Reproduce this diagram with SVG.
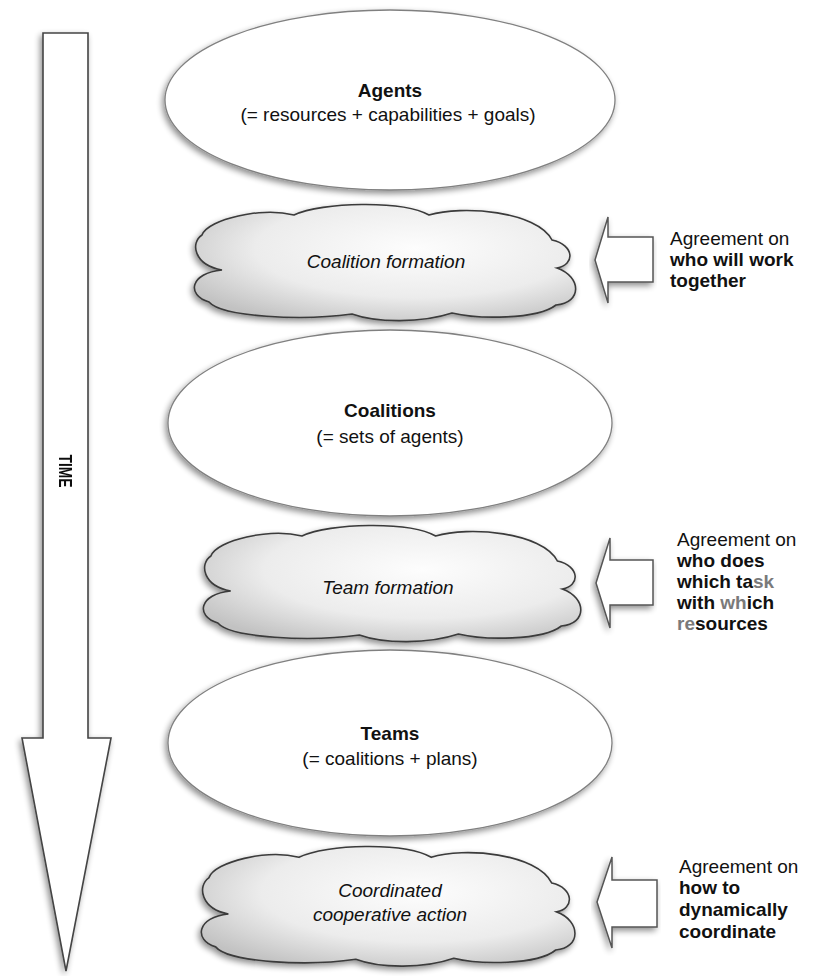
<svg xmlns="http://www.w3.org/2000/svg" width="819" height="976" viewBox="0 0 819 976">
<style>
  text { font-family: "Liberation Sans", Arial, sans-serif; fill: #111; }
  .lbl { font-size: 19px; text-anchor: middle; }
  .b { font-weight: bold; }
  .it { font-style: italic; font-size: 19px; text-anchor: middle; }
  .side { font-size: 19px; }
  .ell { fill: #fff; stroke: #808080; stroke-width: 1.3; }
  .cloud { fill: url(#cg); stroke: #3a3a3a; stroke-width: 1.6; vector-effect: non-scaling-stroke; }
  .barrow { fill: #fff; stroke: #555; stroke-width: 1.5; }
  .fade { fill: #7a7a7a; }
</style>
<defs>
  <radialGradient id="cg" cx="58%" cy="38%" r="70%">
    <stop offset="0" stop-color="#fdfdfd"/>
    <stop offset="0.6" stop-color="#ececec"/>
    <stop offset="1" stop-color="#c2c2c2"/>
  </radialGradient>
  <filter id="sh" x="-10%" y="-10%" width="120%" height="130%">
    <feGaussianBlur in="SourceAlpha" stdDeviation="3"/>
    <feOffset dx="-2" dy="3" result="o"/>
    <feComponentTransfer><feFuncA type="linear" slope="0.45"/></feComponentTransfer>
    <feMerge><feMergeNode/><feMergeNode in="SourceGraphic"/></feMerge>
  </filter>
  <path id="cloudPath" d="M 10,30 C 16,14 70,2 102,10 C 130,-3 210,-5 237,10 C 270,0 345,6 360,35 C 383,40 383,60 365,63 C 390,72 390,98 364,100 C 345,115 285,114 260,108 C 230,118 185,118 160,109 C 110,116 30,112 17,97 C -6,90 -2,68 30,65 C 2,60 -2,38 10,30 Z"/>
</defs>
<rect width="819" height="976" fill="#fff"/>

<g id="time-arrow" filter="url(#sh)">
  <path d="M 43,33 L 88,33 L 88,738 L 111,738 L 66,971 L 22,738 L 43,738 Z" fill="#fff" stroke="#444" stroke-width="1.6"/>
  <text class="b" font-size="18" transform="translate(59,471) rotate(90)" text-anchor="middle" textLength="33" lengthAdjust="spacingAndGlyphs">TIME</text>
</g>

<g id="agents">
  <ellipse class="ell" cx="390" cy="100" rx="225" ry="90" filter="url(#sh)"/>
  <text class="lbl b" x="390" y="97">Agents</text>
  <text class="lbl" x="388" y="121">(= resources + capabilities + goals)</text>
</g>

<g id="coalition-formation">
  <g filter="url(#sh)"><use href="#cloudPath" class="cloud" transform="translate(192,205)"/></g>
  <text class="it" x="386" y="268">Coalition formation</text>
</g>

<g id="coalitions">
  <ellipse class="ell" cx="390" cy="423" rx="222" ry="93" filter="url(#sh)"/>
  <text class="lbl b" x="390" y="417">Coalitions</text>
  <text class="lbl" x="390" y="443">(= sets of agents)</text>
</g>

<g id="team-formation">
  <g filter="url(#sh)"><use href="#cloudPath" class="cloud" transform="translate(201,526) scale(0.99,1)"/></g>
  <text class="it" x="388" y="594">Team formation</text>
</g>

<g id="teams">
  <ellipse class="ell" cx="390" cy="743" rx="222" ry="93" filter="url(#sh)"/>
  <text class="lbl b" x="390" y="740">Teams</text>
  <text class="lbl" x="390" y="765">(= coalitions + plans)</text>
</g>

<g id="coordinated-action">
  <g filter="url(#sh)"><use href="#cloudPath" class="cloud" transform="translate(199,847) scale(0.98,1.03)"/></g>
  <text class="it" x="390" y="897">Coordinated</text>
  <text class="it" x="390" y="921">cooperative action</text>
</g>

<g id="connectors">
  <path class="barrow" filter="url(#sh)" d="M 595,260 L 608,217 L 608,237 L 653,237 L 653,282 L 608,282 L 608,303 Z"/>
  <path class="barrow" filter="url(#sh)" d="M 596,583 L 610,538 L 610,560 L 653,560 L 653,605 L 610,605 L 610,628 Z"/>
  <path class="barrow" filter="url(#sh)" d="M 597,902 L 612,857 L 612,880 L 657,880 L 657,927 L 612,927 L 612,948 Z" stroke="#111" stroke-width="2.4"/>
</g>

<g id="label-1">
  <text class="side" x="670" y="245">Agreement on</text>
  <text class="side b" x="670" y="266">who will work</text>
  <text class="side b" x="670" y="287">together</text>
</g>

<g id="label-2">
  <text class="side" x="677" y="546">Agreement on</text>
  <text class="side b" x="677" y="567">who does</text>
  <text class="side b" x="677" y="588">which ta<tspan class="fade">sk</tspan></text>
  <text class="side b" x="677" y="609">with <tspan class="fade">wh</tspan>ich</text>
  <text class="side b" x="677" y="630"><tspan class="fade">re</tspan>sources</text>
</g>

<g id="label-3">
  <text class="side" x="679" y="873">Agreement on</text>
  <text class="side b" x="679" y="894">how to</text>
  <text class="side b" x="679" y="916">dynamically</text>
  <text class="side b" x="679" y="938">coordinate</text>
</g>
</svg>
